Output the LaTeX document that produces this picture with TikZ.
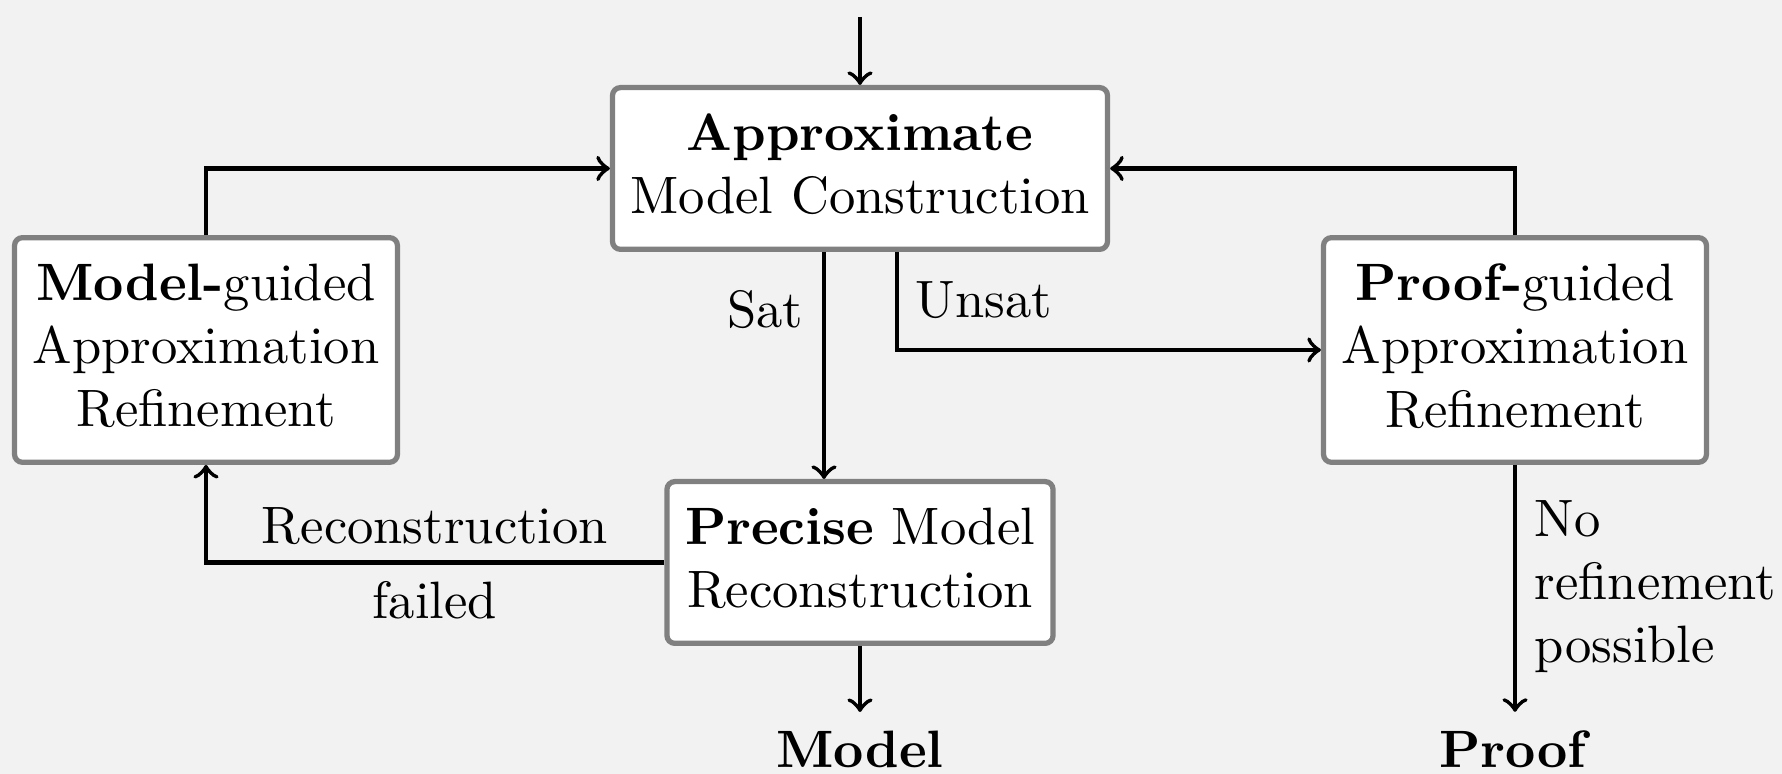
\documentclass[tikz,border=0pt]{standalone}
\usetikzlibrary{calc}
\definecolor{bggray}{HTML}{F2F2F2}
\definecolor{boxgray}{HTML}{808080}
\begin{document}
\begin{tikzpicture}[x=0.19011pt,y=-0.19011pt,
  box/.style={draw=boxgray, line width=1pt, rounded corners=1.5pt, fill=white, align=center, inner sep=0pt, text depth=1.7pt},
  arr/.style={->, line width=0.8pt},
  lbl/.style={inner sep=3.33pt}]
\fill[bggray] (0,0) rectangle (1782,774);
\useasboundingbox (0,0) rectangle (1782,774);
\node[box, minimum width=94.1pt, minimum height=30.75pt] (approx) at (860,168.5) {\textbf{Approximate}\\Model Construction};
\node[box, minimum width=72.8pt, minimum height=42.7pt] (modelg) at (206,350) {\textbf{Model-}guided\\Approximation\\Refinement};
\node[box, minimum width=72.8pt, minimum height=42.7pt] (proofg) at (1515,350) {\textbf{Proof-}guided\\Approximation\\Refinement};
\node[box, minimum width=73.4pt, minimum height=30.75pt] (precise) at (860,562.5) {\textbf{Precise} Model\\Reconstruction};
\node[lbl] (model) at (860,749) {\textbf{Model}};
\node[lbl] (proof) at (1515,749) {\textbf{Proof}};
\coordinate (start) at (860,17);
\coordinate (satx) at (824,0);
\coordinate (unsatx) at (897,0);
\draw[arr] (start) -- (approx.north);
\draw[arr] (approx.south -| satx) -- (precise.north -| satx);
\node[lbl] (satl) at (765,310) {Sat};
\draw[arr] (approx.south -| unsatx) |- (proofg.west);
\node[lbl] (unsatl) at (984,300) {Unsat};
\draw[arr] (modelg.north) |- (approx.west);
\draw[arr] (proofg.north) |- (approx.east);
\draw[arr] (precise.west) -| (modelg.south);
\node[lbl] (recl) at (435,526) {Reconstruction};
\node[lbl] (faill) at (435,600) {failed};
\draw[arr] (proofg.south) -- (proof);
\draw[arr] (precise.south) -- (model);
\node[lbl, anchor=west, align=left] (norl) at (1516,587) {No\\refinement\\possible};
\end{tikzpicture}
\end{document}
